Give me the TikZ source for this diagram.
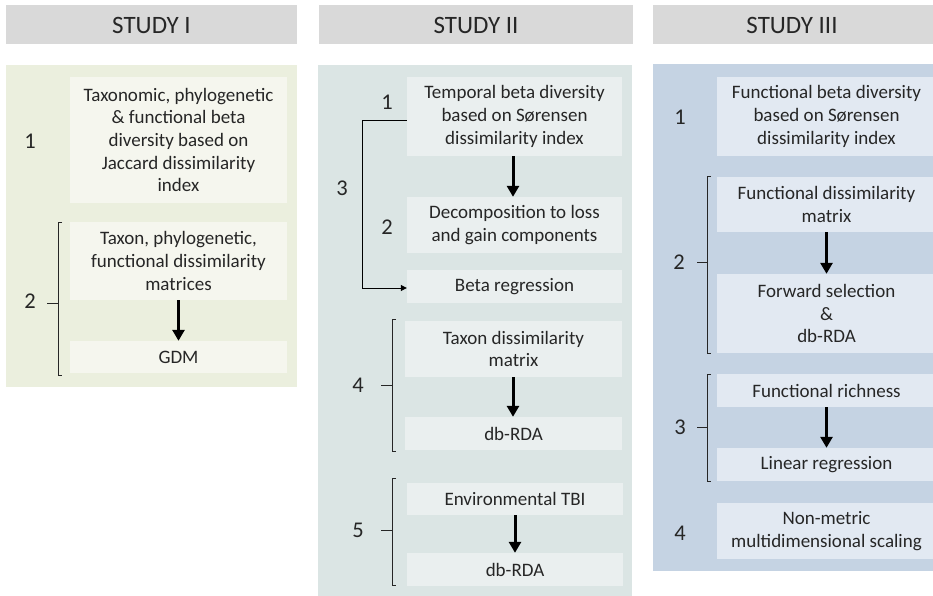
\documentclass[tikz,border=0pt]{standalone}
\usepackage{fontspec}
\setmainfont{Carlito}
\usetikzlibrary{arrows.meta}
\definecolor{hdr}{RGB}{217,217,217}
\definecolor{pA}{RGB}{235,239,222}
\definecolor{bA}{RGB}{245,246,238}
\definecolor{pB}{RGB}{219,229,228}
\definecolor{bB}{RGB}{234,239,239}
\definecolor{pC}{RGB}{197,211,227}
\definecolor{bC}{RGB}{226,233,242}
\tikzset{
  hdrbox/.style={fill=hdr, draw=none},
  hdrtext/.style={font=\fontsize{25}{28}\selectfont, text=black!85},
  box/.style={draw=none, inner sep=0pt, align=center, font=\fontsize{19}{22.6}\selectfont, text=black!85},
  num/.style={font=\fontsize{22.5}{24}\selectfont, text=black!85, inner sep=0pt},
  bigarrow/.style={line width=3pt, -{Triangle[width=12pt,length=11pt]}},
  thinarrow/.style={line width=1pt, -{Triangle[width=6pt,length=6pt]}},
  brk/.style={line width=1pt, black!85},
}
\begin{document}
\begin{tikzpicture}[x=1pt,y=-1pt]
\clip (0,0) rectangle (933,596);
\fill[white] (0,0) rectangle (933,596);
% headers
\fill[hdrbox] (6,5) rectangle (297,44);
\fill[hdrbox] (319,5) rectangle (633,44);
\fill[hdrbox] (653,5) rectangle (940,44);
\node[hdrtext] (h1) at (151.5,25) {STUDY I};
\node[hdrtext] (h2) at (476,25) {STUDY II};
\node[hdrtext] (h3) at (792,25) {STUDY III};
% panels
\fill[pA] (6,65) rectangle (297,387);
\fill[pB] (318,65) rectangle (632,596);
\fill[pC] (653,64) rectangle (940,571);
% Study I
\node[box, fill=bA, minimum width=217, minimum height=126] (a1) at (178.5,140) {Taxonomic, phylogenetic\\\& functional beta\\diversity based on\\Jaccard dissimilarity\\index};
\node[box, fill=bA, minimum width=217, minimum height=78] (a2) at (178.5,261) {Taxon, phylogenetic,\\functional dissimilarity\\matrices};
\node[box, fill=bA, minimum width=217, minimum height=32] (a3) at (178.5,357) {GDM};
\draw[bigarrow] (a2) -- (a3);
\node[num] (na1) at (30,141) {1};
\node[num] (na2) at (30,301) {2};
\draw[brk] (62,222) -- (58,222) -- (58,375) -- (62,375);
\draw[brk] (58,303) -- (47,303);
% Study II
\node[box, fill=bB, minimum width=215, minimum height=79] (b1) at (514.5,116.5) {Temporal beta diversity\\based on Sørensen\\dissimilarity index};
\node[box, fill=bB, minimum width=215, minimum height=56] (b2) at (514.5,225) {Decomposition to loss\\and gain components};
\node[box, fill=bB, minimum width=215, minimum height=33] (b3) at (514.5,286.5) {Beta regression};
\node[box, fill=bB, minimum width=217, minimum height=56] (b4) at (513.5,349) {Taxon dissimilarity\\matrix};
\node[box, fill=bB, minimum width=217, minimum height=33] (b5) at (513.5,433.5) {db-RDA};
\node[box, fill=bB, minimum width=216, minimum height=32] (b6) at (515,499) {Environmental TBI};
\node[box, fill=bB, minimum width=216, minimum height=33] (b7) at (515,569.5) {db-RDA};
\draw[bigarrow] (b1.south -| 513,0) -- (b2.north -| 513,0);
\draw[bigarrow] (b4.south -| 513,0) -- (b5.north -| 513,0);
\draw[bigarrow] (b6.south -| 515,0) -- (b7.north -| 515,0);
\coordinate (bl1) at (362,121);
\draw[thinarrow] ([yshift=-4.5pt]b1.west) -- (bl1) |- ([yshift=-1.5pt]b3.west);
\node[num] (nb1) at (387,102) {1};
\node[num] (nb2) at (387,227) {2};
\node[num] (nb3) at (342,188) {3};
\node[num] (nb4) at (358,385) {4};
\node[num] (nb5) at (358,530) {5};
\draw[brk] (396,319) -- (392,319) -- (392,451) -- (396,451);
\draw[brk] (392,385) -- (381,385);
\draw[brk] (396,478) -- (392,478) -- (392,585) -- (396,585);
\draw[brk] (392,530) -- (381,530);
% Study III
\node[box, fill=bC, minimum width=219, minimum height=79] (c1) at (826.5,116.5) {Functional beta diversity\\based on Sørensen\\dissimilarity index};
\node[box, fill=bC, minimum width=219, minimum height=55] (c2) at (826.5,204.5) {Functional dissimilarity\\matrix};
\node[box, fill=bC, minimum width=219, minimum height=79] (c3) at (826.5,313.5) {Forward selection\\\&\\db-RDA};
\node[box, fill=bC, minimum width=219, minimum height=33] (c4) at (826.5,390.5) {Functional richness};
\node[box, fill=bC, minimum width=219, minimum height=33] (c5) at (826.5,464.5) {Linear regression};
\node[box, fill=bC, minimum width=219, minimum height=56] (c6) at (826.5,531) {Non-metric\\multidimensional scaling};
\draw[bigarrow] (c2) -- (c3);
\draw[bigarrow] (c4) -- (c5);
\node[num] (nc1) at (680,117) {1};
\node[num] (nc2) at (679,262) {2};
\node[num] (nc3) at (680,427) {3};
\node[num] (nc4) at (680,533) {4};
\draw[brk] (711,176) -- (707,176) -- (707,353) -- (711,353);
\draw[brk] (707,262) -- (697,262);
\draw[brk] (711,374) -- (707,374) -- (707,481) -- (711,481);
\draw[brk] (707,427) -- (697,427);
\end{tikzpicture}
\end{document}
